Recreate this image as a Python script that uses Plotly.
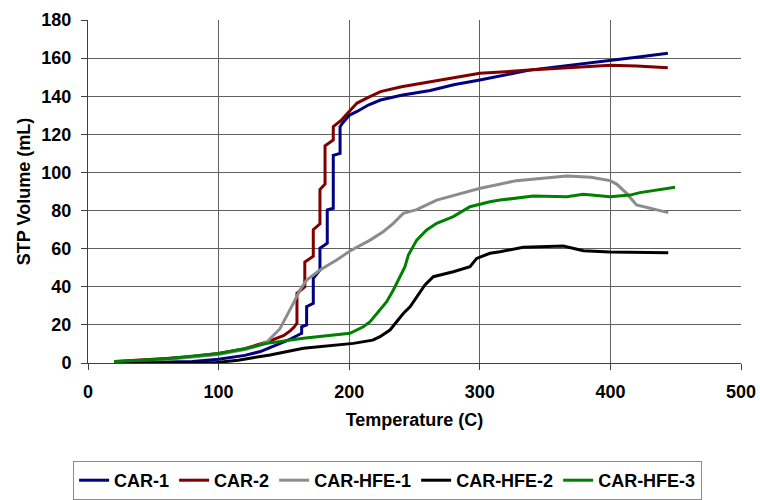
import plotly.graph_objects as go

# ---- data ----
car1_T = [20, 40, 60, 80, 100, 120, 132, 145, 155, 161, 163.6, 163.6, 167.4, 167.4, 172.5, 172.5,
          177.6, 177.6, 183.2, 183.2, 187.8, 187.8, 193, 193, 195, 200, 206, 215, 224, 240, 262,
          280, 300, 338, 370, 400, 420, 444]
car1_V = [0.3, 0.4, 0.5, 0.8, 2, 4, 6, 9.5, 12.5, 14.7, 15.6, 19, 20, 29.5, 31.3, 44.4,
          48.8, 60.2, 62.8, 80.3, 81.2, 109, 110, 124, 126, 130, 132, 135.5, 138, 140.5, 143,
          146, 148.5, 153.7, 156.5, 159, 160.5, 162.5]

car2_T = [20, 40, 60, 80, 100, 120, 137, 150, 155, 158, 160, 160, 166, 166, 172.5, 172.5,
          177.6, 177.6, 181.5, 181.5, 187.8, 187.8, 194, 200, 206, 215, 224, 240, 262, 280,
          300, 338, 370, 400, 420, 444]
car2_V = [0.8, 1.5, 2.4, 3.4, 5, 7.5, 11, 14.5, 17, 19, 21, 36.6, 40, 53, 56, 70,
          73, 91, 94, 114, 117, 124, 127.5, 132, 136.4, 139.5, 142.4, 145, 147.6, 150,
          152, 153.7, 155, 156.3, 155.8, 155]

hfe1_T = [20, 60, 100, 120, 130, 137, 147, 152, 157.2, 162.3, 167.4, 177.6, 190.4, 200.6,
          216, 226, 233.8, 241.4, 251.7, 267, 277, 299.6, 328, 366.5, 385, 399.7, 404.8,
          412.4, 420, 430, 444.3]
hfe1_V = [0.5, 1.8, 4.5, 7, 9, 11, 18, 24.3, 31.3, 38.3, 43.5, 48.8, 54, 58.8,
          64.5, 68.9, 73.3, 78.5, 80.5, 85.5, 87.3, 91.6, 95.7, 98.1, 97.5, 95.7, 93.9,
          89, 82.9, 81.1, 78.9]

hfe2_T = [20, 60, 98.5, 115, 132, 139.4, 164.9, 183, 203.2, 218, 223.6, 231.2, 236.4, 241.4,
          246.6, 251.7, 258, 264.4, 279.7, 292.5, 297.6, 307.8, 315.5, 333.3, 364, 379.3,
          399.7, 444.3]
hfe2_V = [0, 0.1, 0.3, 1.5, 3.3, 4.2, 7.7, 9, 10.3, 12, 13.8, 17.3, 21.7, 26,
          29.5, 34.8, 41, 45.3, 47.9, 50.5, 54.9, 57.6, 58.4, 60.7, 61.4, 58.9,
          58.2, 57.9]

hfe3_T = [20, 60, 100, 120, 137, 164.9, 200.6, 210.8, 216, 223.6, 228.7, 233.8, 238.9, 242.7,
          245.3, 251.7, 259.3, 267, 279.7, 292.5, 307.8, 315.5, 341, 366.5, 379.3, 399.7,
          415, 422.6, 449.5]
hfe3_V = [0.7, 2.2, 5, 7.5, 10.3, 13, 15.6, 19, 21.7, 27.8, 32.2, 38.3, 45.3, 50.5,
          56.7, 64.5, 69.8, 73.3, 76.8, 82, 84.6, 85.5, 87.6, 87.3, 88.5, 87.3,
          88.1, 89.4, 92.2]

series = [
    ("CAR-1", car1_T, car1_V, "#000080"),
    ("CAR-2", car2_T, car2_V, "#800000"),
    ("CAR-HFE-1", hfe1_T, hfe1_V, "#8c8c8c"),
    ("CAR-HFE-2", hfe2_T, hfe2_V, "#000000"),
    ("CAR-HFE-3", hfe3_T, hfe3_V, "#008000"),
]

x_ticks = [0, 100, 200, 300, 400, 500]
y_ticks = [0, 20, 40, 60, 80, 100, 120, 140, 160, 180]

FONT = "Liberation Sans, Arial, sans-serif"

fig = go.Figure()
for name, T, V, col in series:
    fig.add_trace(go.Scatter(x=T, y=V, mode="lines", name=name,
                             line=dict(color=col, width=3)))

fig.update_layout(
    width=760, height=500,
    margin=dict(l=88, r=19, t=20, b=137, autoexpand=False),
    paper_bgcolor="white", plot_bgcolor="white",
    font=dict(family=FONT, size=17, color="black", weight="bold"),
    showlegend=True,
    legend=dict(orientation="h", xref="container", yref="container",
                x=0.51, xanchor="center", y=0.0, yanchor="bottom",
                bordercolor="#8a8a8a", borderwidth=1, bgcolor="white",
                font=dict(family=FONT, size=18, color="black", weight="bold"),
                itemwidth=30, tracegroupgap=0),
    xaxis=dict(range=[0, 500], tickvals=x_ticks, showgrid=True, gridcolor="#606060",
               gridwidth=1, showline=True, linecolor="#404040", linewidth=1,
               ticks="outside", ticklen=6, tickcolor="#404040", zeroline=False,
               ticklabelstandoff=6,
               tickfont=dict(family=FONT, size=18, weight="bold"),
               title=dict(text="Temperature (C)", standoff=12,
                          font=dict(family=FONT, size=18, weight="bold"))),
    yaxis=dict(range=[0, 180], tickvals=y_ticks, showgrid=True, gridcolor="#606060",
               gridwidth=1, showline=True, linecolor="#404040", linewidth=1,
               ticks="outside", ticklen=6, tickcolor="#404040", zeroline=False,
               ticklabelstandoff=6,
               tickfont=dict(family=FONT, size=18, weight="bold"),
               title=dict(text="STP Volume (mL)", standoff=6,
                          font=dict(family=FONT, size=18, weight="bold"))),
)

fig.write_html("out.html")
